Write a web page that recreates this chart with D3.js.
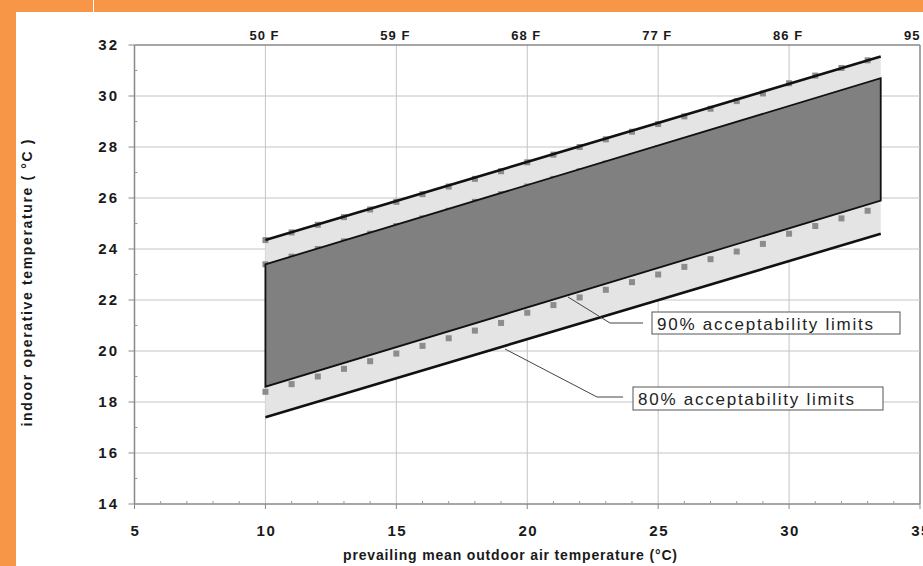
<!DOCTYPE html>
<html>
<head>
<meta charset="utf-8">
<script src="https://cdn.jsdelivr.net/npm/d3@7"></script>
<style>
  body { margin: 0; background: #fff; }
  svg { display: block; font-family: "Liberation Sans", Arial, sans-serif; }
</style>
</head>
<body>
<div id="chart"></div>
<script>
// chart size
var svgWidth = 923;
var svgHeight = 566;

// data
var xTicks = [5, 10, 15, 20, 25, 30, 35];
var yTicks = [14, 16, 18, 20, 22, 24, 26, 28, 30, 32];
var fLabels = ["50 F", "59 F", "68 F", "77 F", "86 F", "95 F"];
var fPositions = [10, 15, 20, 25, 30, 35];

// band end points (outdoor temp) and limit values
var bandX = [10, 33.5];
var upper80 = [24.35, 31.55];
var lower80 = [17.4, 24.6];
var upper90 = [23.4, 30.7];
var lower90 = [18.6, 25.9];

// gray square markers at whole degrees
var markX = [10, 11, 12, 13, 14, 15, 16, 17, 18, 19, 20, 21, 22, 23, 24, 25, 26, 27, 28, 29, 30, 31, 32, 33];
var markUpper80 = [24.35, 24.65, 24.95, 25.25, 25.55, 25.85, 26.15, 26.45, 26.75, 27.05, 27.4, 27.7, 28.0, 28.3, 28.6, 28.9, 29.2, 29.5, 29.8, 30.1, 30.5, 30.8, 31.1, 31.4];
var markUpper90 = [23.4, 23.7, 24.0, 24.3, 24.6, 24.9, 25.2, 25.5, 25.85, 26.15, 26.45, 26.75, 27.05, 27.35, 27.65, 27.95, 28.25, 28.55, 28.85, 29.15, 29.45, 29.75, 30.05, 30.35];
var markLower90 = [18.4, 18.7, 19.0, 19.3, 19.6, 19.9, 20.2, 20.5, 20.8, 21.1, 21.5, 21.8, 22.1, 22.4, 22.7, 23.0, 23.3, 23.6, 23.9, 24.2, 24.6, 24.9, 25.2, 25.5];

var svg = d3.select("#chart").append("svg")
    .attr("width", svgWidth)
    .attr("height", svgHeight);

// orange page frame
var orange = "#f79646";
svg.append("rect").attr("x", 0).attr("y", 0).attr("width", svgWidth).attr("height", 12).attr("fill", orange);
svg.append("rect").attr("x", 0).attr("y", 0).attr("width", 16).attr("height", svgHeight).attr("fill", orange);
svg.append("rect").attr("x", 93).attr("y", 0).attr("width", 1).attr("height", 12).attr("fill", "#fff");

// scales
var x = d3.scaleLinear().domain([5, 35]).range([134.5, 920]);
var y = d3.scaleLinear().domain([14, 32]).range([504, 45]);

var plot = svg.append("g");

// grid lines
plot.append("g").selectAll("line")
    .data(xTicks.slice(1))
    .enter().append("line")
    .attr("x1", d => x(d)).attr("x2", d => x(d))
    .attr("y1", y(32)).attr("y2", y(14))
    .attr("stroke", d => d === 35 ? "#888" : "#c4c4c4")
    .attr("stroke-width", d => d === 35 ? 1.5 : 1);

plot.append("g").selectAll("line")
    .data(yTicks.slice(1))
    .enter().append("line")
    .attr("x1", x(5)).attr("x2", x(35))
    .attr("y1", d => y(d)).attr("y2", d => y(d))
    .attr("stroke", d => d === 32 ? "#888" : "#c4c4c4")
    .attr("stroke-width", d => d === 32 ? 1.5 : 1);

// light 80% band
var area = d3.area()
    .x((d, i) => x(bandX[i]))
    .y0((d, i) => y(lower80[i]))
    .y1(d => y(d));

plot.append("path")
    .datum(upper80)
    .attr("d", area)
    .attr("fill", "#e4e4e4");

// square markers
var sq = 6;
[markUpper80, markUpper90, markLower90].forEach(function(series) {
    plot.append("g").selectAll("rect")
        .data(series)
        .enter().append("rect")
        .attr("x", (d, i) => x(markX[i]) - sq / 2)
        .attr("y", d => y(d) - sq / 2)
        .attr("width", sq).attr("height", sq)
        .attr("fill", "#8c8c8c");
});

// dark 90% band
var darkArea = d3.area()
    .x((d, i) => x(bandX[i]))
    .y0((d, i) => y(lower90[i]))
    .y1(d => y(d));

plot.append("path")
    .datum(upper90)
    .attr("d", darkArea)
    .attr("fill", "#808080")
    .attr("stroke", "#111")
    .attr("stroke-width", 1.8)
    .attr("stroke-linejoin", "miter");

// 80% limit lines
var line = d3.line().x((d, i) => x(bandX[i])).y(d => y(d));
[upper80, lower80].forEach(function(series) {
    plot.append("path")
        .datum(series)
        .attr("d", line)
        .attr("fill", "none")
        .attr("stroke", "#111")
        .attr("stroke-width", 2.6);
});

// axes frame
plot.append("line")
    .attr("x1", x(5)).attr("x2", x(5)).attr("y1", y(32)).attr("y2", y(14))
    .attr("stroke", "#888").attr("stroke-width", 1.5);
plot.append("line")
    .attr("x1", x(5)).attr("x2", x(35)).attr("y1", y(14)).attr("y2", y(14))
    .attr("stroke", "#888").attr("stroke-width", 1.5);

// x ticks: major down, minor up
plot.append("g").selectAll("line")
    .data(xTicks)
    .enter().append("line")
    .attr("x1", d => x(d)).attr("x2", d => x(d))
    .attr("y1", y(14)).attr("y2", y(14) + 5)
    .attr("stroke", "#888");
plot.append("g").selectAll("line")
    .data(d3.range(6, 35).filter(d => d % 5 !== 0))
    .enter().append("line")
    .attr("x1", d => x(d)).attr("x2", d => x(d))
    .attr("y1", y(14)).attr("y2", y(14) - 3)
    .attr("stroke", "#999");

// y ticks: major left, minor right
plot.append("g").selectAll("line")
    .data(yTicks)
    .enter().append("line")
    .attr("x1", x(5) - 6).attr("x2", x(5))
    .attr("y1", d => y(d)).attr("y2", d => y(d))
    .attr("stroke", "#888");
plot.append("g").selectAll("line")
    .data(d3.range(15, 32, 2))
    .enter().append("line")
    .attr("x1", x(5)).attr("x2", x(5) + 3)
    .attr("y1", d => y(d)).attr("y2", d => y(d))
    .attr("stroke", "#999");

// tick labels
plot.append("g").selectAll("text")
    .data(xTicks)
    .enter().append("text")
    .attr("x", d => x(d) + 1)
    .attr("y", 536)
    .attr("text-anchor", "middle")
    .attr("font-size", "15px")
    .attr("font-weight", "bold")
    .attr("letter-spacing", "1.5px")
    .attr("fill", "#1a1a1a")
    .text(d => d);

plot.append("g").selectAll("text")
    .data(yTicks)
    .enter().append("text")
    .attr("x", 119)
    .attr("y", d => y(d) + 5)
    .attr("text-anchor", "end")
    .attr("font-size", "15px")
    .attr("font-weight", "bold")
    .attr("letter-spacing", "2px")
    .attr("fill", "#1a1a1a")
    .text(d => d);

// Fahrenheit labels on top
plot.append("g").selectAll("text")
    .data(fLabels)
    .enter().append("text")
    .attr("x", (d, i) => x(fPositions[i]) - 1)
    .attr("y", 40)
    .attr("text-anchor", "middle")
    .attr("font-size", "13px")
    .attr("font-weight", "bold")
    .attr("letter-spacing", "1px")
    .attr("fill", "#1a1a1a")
    .text(d => d);

// axis titles
svg.append("text")
    .attr("x", 510)
    .attr("y", 560)
    .attr("text-anchor", "middle")
    .attr("font-size", "14px")
    .attr("font-weight", "bold")
    .attr("textLength", 334)
    .attr("fill", "#1a1a1a")
    .text("prevailing mean outdoor air temperature (°C)");

svg.append("text")
    .attr("transform", "translate(32, 283) rotate(-90)")
    .attr("text-anchor", "middle")
    .attr("font-size", "14px")
    .attr("font-weight", "bold")
    .attr("textLength", 287)
    .attr("fill", "#1a1a1a")
    .text("indoor operative temperature ( °C )");

// callouts
var callouts = [
    { label: "90% acceptability limits", pts: [[568, 297], [610, 323], [643, 323]], box: [652, 312, 248, 22] },
    { label: "80% acceptability limits", pts: [[505, 349], [597, 397], [623, 397]], box: [633, 387, 250, 23] }
];

callouts.forEach(function(c) {
    svg.append("polyline")
        .attr("points", c.pts.map(p => p.join(",")).join(" "))
        .attr("fill", "none")
        .attr("stroke", "#444")
        .attr("stroke-width", 1);
    svg.append("rect")
        .attr("x", c.box[0]).attr("y", c.box[1])
        .attr("width", c.box[2]).attr("height", c.box[3])
        .attr("fill", "#fff")
        .attr("stroke", "#555")
        .attr("stroke-width", 1);
    svg.append("text")
        .attr("x", c.box[0] + 5)
        .attr("y", c.box[1] + 18)
        .attr("font-size", "17px")
        .attr("textLength", 216)
        .attr("lengthAdjust", "spacing")
        .attr("fill", "#222")
        .text(c.label);
});
</script>
</body>
</html>
